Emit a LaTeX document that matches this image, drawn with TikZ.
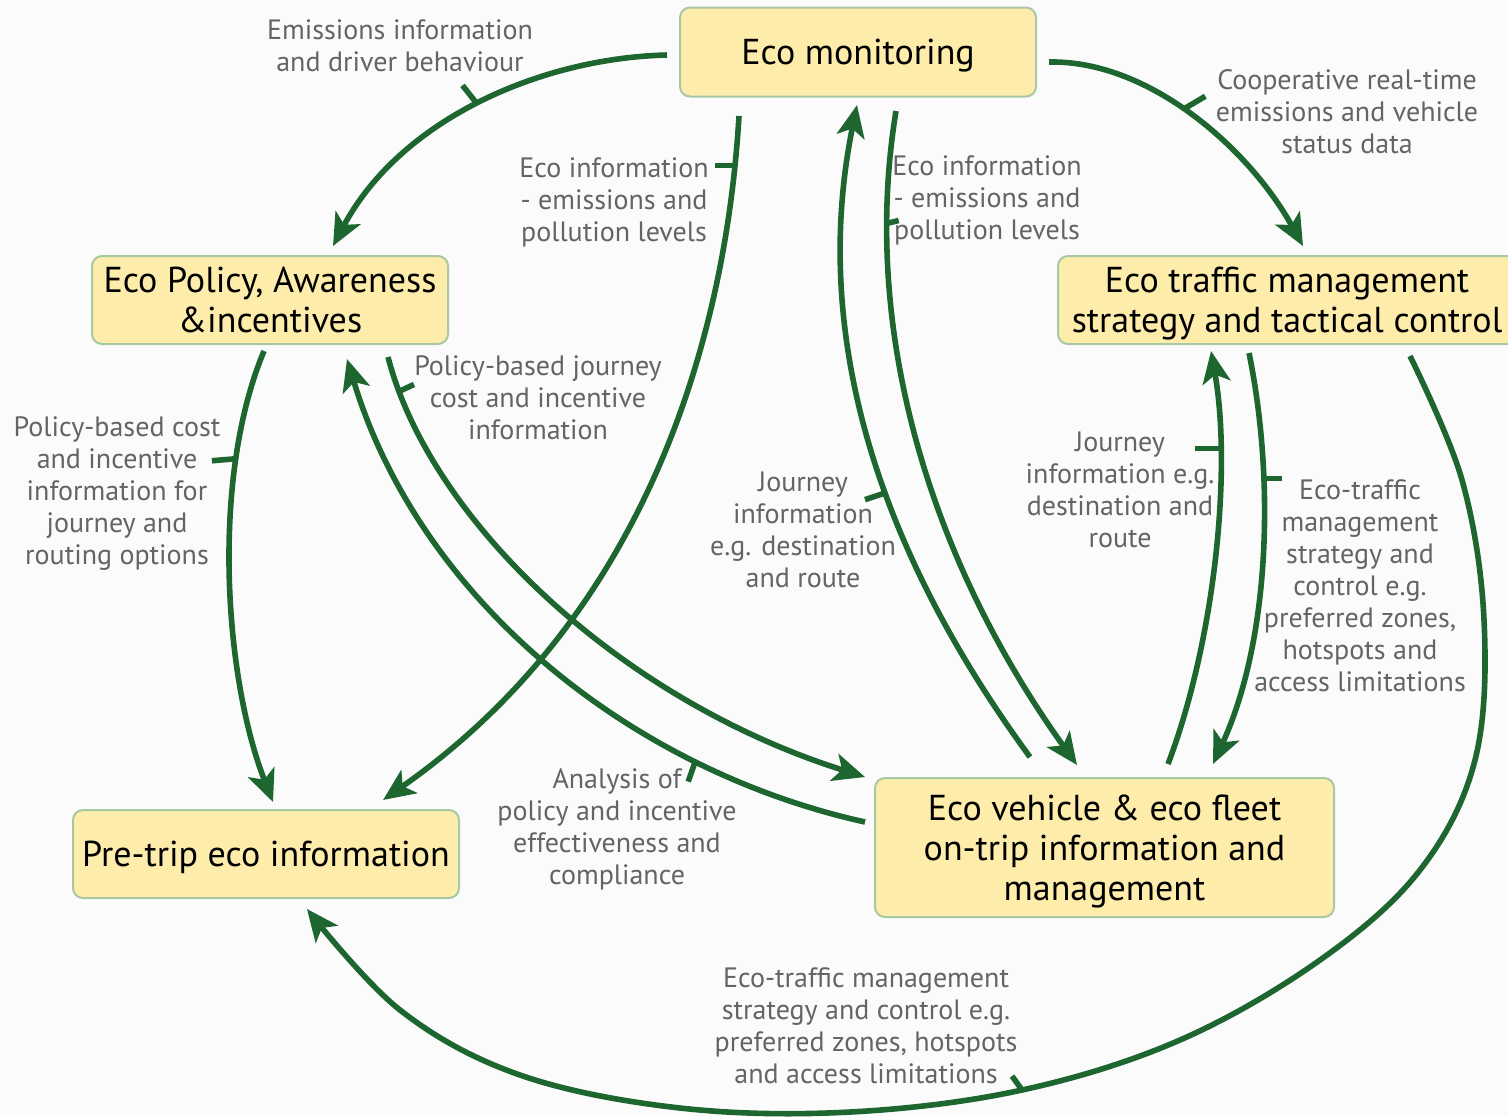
\documentclass[tikz,border=0pt]{standalone}
\usepackage{fontspec}
\setmainfont{PT Sans}
\usetikzlibrary{arrows.meta,calc}
\definecolor{arr}{RGB}{30,102,48}
\definecolor{boxfill}{RGB}{253,236,170}
\definecolor{boxline}{RGB}{168,200,164}
\definecolor{lbl}{RGB}{100,100,100}
\definecolor{bg}{RGB}{251,251,251}
\begin{document}
\begin{tikzpicture}[x=0.5pt,y=-0.5pt,
  box/.style={draw=boxline, line width=1pt, fill=boxfill, rounded corners=5pt,
    align=center, text=black, inner sep=0pt, text depth=0pt, font=\fontsize{18}{20}\selectfont},
  lab/.style={align=center, text=lbl, inner sep=0pt, font=\fontsize{14}{16}\selectfont},
  conn/.style={draw=arr, line width=2.8pt, -{Stealth[length=16pt,width=14pt,inset=4pt]}},
  tickmark/.style={draw=arr, line width=2.8pt}]
\fill[bg] (0,0) rectangle (1508,1116);
\useasboundingbox (0,0) rectangle (1508,1116);

% boxes
\node[box, minimum width=178pt, minimum height=44.5pt] (mon) at (858,52) {Eco monitoring};
\node[box, minimum width=178pt, minimum height=44pt] (pol) at (270,300) {Eco Policy, Awareness\\\&incentives};
\node[box, minimum width=229pt, minimum height=44pt] (tra) at (1287,300) {Eco traffic management\\strategy and tactical control};
\node[box, minimum width=193pt, minimum height=44pt] (pre) at (266,854) {Pre-trip eco information};
\node[box, minimum width=229.5pt, minimum height=69.5pt] (veh) at (1104.5,847.5) {Eco vehicle \& eco fleet\\on-trip information and\\management};

% labels
\node[lab] (l1) at (400,46) {Emissions information\\and driver behaviour};
\node[lab] (l2) at (614,202) {Eco information\\- emissions and\\pollution levels};
\node[lab] (l3) at (1347,112) {Cooperative real-time\\emissions and vehicle\\status data};
\node[lab] (l4) at (987,200) {Eco information\\- emissions and\\pollution levels};
\node[lab] (l5) at (538,398) {Policy-based journey\\cost and incentive\\information};
\node[lab] (l6) at (117,494) {Policy-based cost\\and incentive\\information for\\journey and\\routing options};
\node[lab] (l7) at (803,530) {Journey\\information\\e.g. destination\\and route};
\node[lab] (l8) at (1120,490) {Journey\\information e.g.\\destination and\\route};
\node[lab] (l9) at (1360,586) {Eco-traffic\\management\\strategy and\\control e.g.\\preferred zones,\\hotspots and\\access limitations};
\node[lab] (l10) at (617,829) {Analysis of\\policy and incentive\\effectiveness and\\compliance};
\node[lab] (l11) at (866,1026) {Eco-traffic management\\strategy and control e.g.\\preferred zones, hotspots\\and access limitations};

% end points
\coordinate (s1) at ($(mon.west)+(-12,3)$);
\coordinate (e1) at ($(pol.north)+(63,-9)$);
\coordinate (s2) at ($(mon.south)+(-119,18.5)$);
\coordinate (e2) at ($(pre.north)+(117,-9)$);
\coordinate (s3) at ($(mon.east)+(12,10)$);
\coordinate (e3) at ($(tra.north)+(16,-9)$);
\coordinate (s4) at ($(veh.north)+(-74.5,-20)$);
\coordinate (e4) at ($(mon.south)+(-1,7.5)$);
\coordinate (s5) at ($(mon.south)+(38,13.5)$);
\coordinate (e5) at ($(veh.north)+(-27.5,-12)$);
\coordinate (s6) at ($(pol.south)+(118,12)$);
\coordinate (e6) at ($(veh.north west)+(-9,0)$);
\coordinate (s7) at ($(veh.west)+(-9,-25.5)$);
\coordinate (e7) at ($(pol.south)+(77,14)$);
\coordinate (s8) at ($(pol.south)+(-6,6)$);
\coordinate (e8) at ($(pre.north)+(7,-7)$);
\coordinate (s9) at ($(veh.north)+(63.5,-13)$);
\coordinate (e9) at ($(tra.south)+(-76,6)$);
\coordinate (s10) at ($(tra.south)+(-38,8)$);
\coordinate (e10) at ($(veh.north)+(108.5,-13)$);
\coordinate (s11) at ($(tra.south)+(123,11)$);
\coordinate (e11) at ($(pre.south)+(41,10)$);
\coordinate (t11) at (1022,1090);

% connectors
\draw[conn] (s1) .. controls (540,58) and (400,120) .. (e1) coordinate[pos=0.5] (t1);
\draw[conn] (s2) .. controls (725,350) and (640,620) .. (e2) coordinate[pos=0.07] (t2);
\draw[conn] (s3) .. controls (1150,60) and (1250,150) .. (e3) coordinate[pos=0.46] (t3);
\draw[conn] (s4) .. controls (900,580) and (805,360) .. (e4) coordinate[pos=0.45] (t4);
\draw[conn] (s5) .. controls (860,330) and (930,560) .. (e5) coordinate[pos=0.17] (t5);
\draw[conn] (s6) .. controls (430,520) and (620,700) .. (e6) coordinate[pos=0.07] (t6);
\draw[conn] (s7) .. controls (630,770) and (420,600) .. (e7) coordinate[pos=0.25] (t7);
\draw[conn] (s8) .. controls (210,480) and (225,680) .. (e8) coordinate[pos=0.25] (t8);
\draw[conn] (s9) .. controls (1215,640) and (1232,470) .. (e9) coordinate[pos=0.75] (t9);
\draw[conn] (s10) .. controls (1275,480) and (1270,640) .. (e10) coordinate[pos=0.31] (t10);
\draw[conn] plot[smooth, tension=0.6] coordinates {(s11) (1462,480) (1484,620) (1475,760) (1420,870) (1320,960) (1180,1040) (t11) (850,1112) (680,1108) (520,1075) (400,1010) (e11)};

% ticks
\draw[tickmark] (t1) -- ++(-15,-19);
\draw[tickmark] (t2) -- ++(-20,0);
\draw[tickmark] (t3) -- ++(22,-13);
\draw[tickmark] (t4) -- ++(-21,7);
\draw[tickmark] (t5) -- ++(12,-3);
\draw[tickmark] (t6) -- ++(15,-7);
\draw[tickmark] (t7) -- ++(-7,20);
\draw[tickmark] (t8) -- ++(-24,2);
\draw[tickmark] (t9) -- ++(-25,0);
\draw[tickmark] (t10) -- ++(18,0);
\draw[tickmark] (t11) -- ++(-10,-14);
\end{tikzpicture}
\end{document}
